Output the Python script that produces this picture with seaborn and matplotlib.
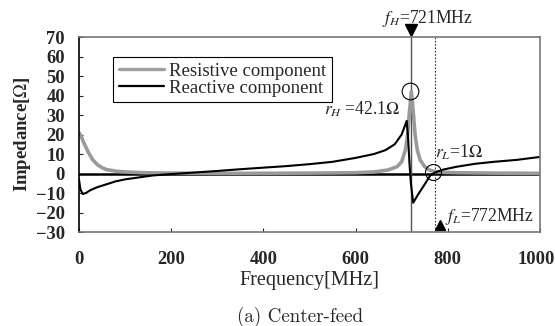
import numpy as np
import pandas as pd
import matplotlib
matplotlib.use("Agg")
import matplotlib.pyplot as plt
import matplotlib.transforms as mtransforms
import seaborn as sns
from matplotlib.lines import Line2D

# --- data ---
res_freq = [0, 5, 10, 20, 30, 40, 50, 60, 80, 100, 130, 160, 200, 300, 400, 500,
            600, 640, 670, 690, 700, 708, 713, 717, 721, 725, 729, 734, 740, 750,
            760, 772, 790, 820, 900, 1000]
res_ohm = [21, 19, 16, 11, 7, 4.5, 3, 2, 1.2, 0.8, 0.5, 0.3, 0.2, 0.1, 0.1, 0.2,
           0.4, 0.8, 1.8, 3.5, 6, 12, 20, 32, 42, 32, 20, 12, 7, 3.5,
           1.8, 1, 0.6, 0.4, 0.2, 0.1]

rea_freq = [0, 3, 8, 15, 25, 40, 60, 80, 100, 130, 160, 200, 250, 300, 350, 400,
            450, 500, 550, 600, 640, 665, 685, 700, 711, 714, 717, 720, 725, 735,
            750, 762, 772, 790, 820, 860, 900, 950, 1000]
rea_ohm = [-3, -8, -10.5, -10, -8.5, -7, -5.5, -4, -3, -2, -1, -0.3, 0.5, 1.3, 2.2, 3,
           3.8, 4.8, 6, 8, 10, 12, 15, 20, 27, 18, 5, -5, -15, -11,
           -5.5, -1, 0.5, 2, 3.5, 5, 6, 7, 8.5]

f_high, r_high = 721, 42.1
f_low, r_low = 772, 1

df = pd.concat([
    pd.DataFrame({"freq": res_freq, "imp": res_ohm, "comp": "Resistive component"}),
    pd.DataFrame({"freq": rea_freq, "imp": rea_ohm, "comp": "Reactive component"}),
])

# --- style ---
sns.set_style("ticks")
plt.rcParams["font.family"] = ["Liberation Serif", "DejaVu Serif"]
plt.rcParams["mathtext.fontset"] = "stix"

fig = plt.figure(figsize=(5.55, 3.26), dpi=100)
ax = fig.add_axes([0.1423, 0.2883, 0.8306, 0.5982])

sns.lineplot(data=df, x="freq", y="imp", hue="comp", sort=False,
             palette={"Resistive component": "#9a9a9a", "Reactive component": "black"},
             ax=ax, legend=False)
lines = ax.get_lines()
lines[0].set_linewidth(2.6)
lines[1].set_linewidth(1.5)

ax.axhline(0, color="black", lw=1.8, zorder=1)
ax.axvline(f_high, color="#555555", lw=1.0, zorder=1)
ax.axvline(f_low, color="#333333", lw=0.8, ls=(0, (1.5, 1.5)), zorder=1)

# markers for resonance points
ax.plot([f_high - 4], [r_high], "o", ms=12, mfc="none", mec="black", mew=0.8)
ax.plot([f_low - 5], [r_low], "o", ms=11.5, mfc="none", mec="black", mew=0.8)
ax.plot([f_high], [73.5], "v", ms=8, color="black", clip_on=False)
ax.plot([f_low + 11], [-26.3], "^", ms=7, color="black", clip_on=False)

ax.text(755, 79.5, r"$f_H$=721MHz", ha="center", va="center", fontsize=12.7)
ax.text(697, 33, r"$r_H$ =42.1$\Omega$", ha="right", va="center", fontsize=12.7)
ax.text(772, 11, r"$r_L$=1$\Omega$", ha="left", va="center", fontsize=12.7)
ax.text(793, -22, r"$f_L$=772MHz", ha="left", va="center", fontsize=12.7)

ax.set_xlim(0, 1000)
ax.set_ylim(-30, 70)
ax.set_xticks(range(0, 1001, 200))
ax.set_yticks(range(-30, 71, 10))
ax.tick_params(direction="in", length=3, width=0.8, labelsize=13.3)
ax.tick_params(axis="x", pad=14)
ax.tick_params(axis="y", pad=10)
for lab in ax.get_xticklabels() + ax.get_yticklabels():
    lab.set_fontweight("bold")
# last x label sits at the right edge, nudge it in a little
last = ax.get_xticklabels()[-1]
last.set_transform(last.get_transform() +
                   mtransforms.ScaledTranslation(-4 / 100, 0, fig.dpi_scale_trans))

for side in ["top", "right", "bottom"]:
    ax.spines[side].set_visible(True)
    ax.spines[side].set_color("#777777")
    ax.spines[side].set_linestyle((0, (1, 1)))
    ax.spines[side].set_linewidth(1.2)
ax.spines["left"].set_color("black")
ax.spines["left"].set_linewidth(1.2)

ax.set_xlabel("Frequency[MHz]", fontsize=14.5, labelpad=2)
ax.set_ylabel("Impedance[$\\Omega$]", fontsize=13.5, fontweight="bold", labelpad=2)

handles = [Line2D([], [], color="#a0a0a0", lw=2.4), Line2D([], [], color="black", lw=1.6)]
leg = ax.legend(handles, ["Resistive component", "Reactive component"],
                loc="upper left", bbox_to_anchor=(0.0738, 0.898), fontsize=13.5,
                frameon=True, fancybox=False, framealpha=1, edgecolor="black",
                handlelength=2.4, borderpad=0.3, labelspacing=0.0, handletextpad=0.3,
                borderaxespad=0)
leg.get_frame().set_linewidth(0.8)

fig.text(0.54, 0.028, "(a) Center-feed", ha="center", va="center",
         fontsize=13.7, family="cmr10")

fig.savefig("out.png", dpi=100)
